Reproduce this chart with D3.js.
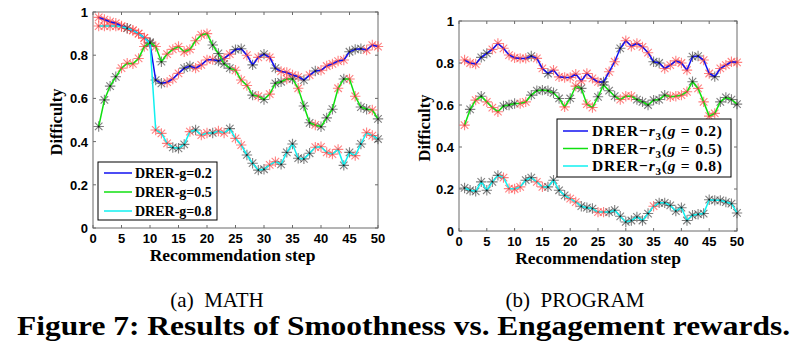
<!DOCTYPE html>
<html>
<head>
<meta charset="utf-8">
<script src="https://cdn.jsdelivr.net/npm/d3@7/dist/d3.min.js"></script>
<style>
  html, body { margin: 0; padding: 0; background: #fff; }
  svg { display: block; }
</style>
</head>
<body>
<svg id="fig" width="800" height="359"></svg>
<script>
// Recommendation steps shared by both panels
const steps = d3.range(1, 51);

// (a) MATH: difficulty per step
const mathG02 = [0.975, 0.965, 0.955, 0.948, 0.935, 0.925, 0.915, 0.90, 0.88, 0.855,
  0.685, 0.67, 0.675, 0.69, 0.716, 0.74, 0.75, 0.74, 0.755, 0.778,
  0.78, 0.773, 0.785, 0.805, 0.826, 0.83, 0.80, 0.755, 0.79, 0.805,
  0.79, 0.74, 0.725, 0.72, 0.708, 0.70, 0.685, 0.708, 0.727, 0.73,
  0.75, 0.76, 0.773, 0.778, 0.816, 0.827, 0.83, 0.824, 0.847, 0.84];
const mathG05 = [0.47, 0.593, 0.657, 0.70, 0.74, 0.763, 0.76, 0.785, 0.84, 0.86,
  0.84, 0.77, 0.805, 0.827, 0.84, 0.816, 0.827, 0.867, 0.894, 0.90,
  0.847, 0.808, 0.76, 0.74, 0.73, 0.685, 0.66, 0.615, 0.61, 0.595,
  0.62, 0.67, 0.677, 0.69, 0.69, 0.647, 0.565, 0.487, 0.477, 0.469,
  0.51, 0.55, 0.647, 0.69, 0.69, 0.61, 0.56, 0.55, 0.546, 0.505];
const mathG08 = [0.935, 0.935, 0.935, 0.935, 0.932, 0.925, 0.915, 0.90, 0.88, 0.855,
  0.454, 0.438, 0.392, 0.373, 0.369, 0.387, 0.446, 0.454, 0.43, 0.44,
  0.44, 0.449, 0.44, 0.46, 0.415, 0.384, 0.338, 0.30, 0.268, 0.272,
  0.292, 0.307, 0.295, 0.35, 0.389, 0.323, 0.32, 0.346, 0.374, 0.376,
  0.35, 0.342, 0.364, 0.29, 0.35, 0.335, 0.389, 0.441, 0.428, 0.412];

// (b) PROGRAM: difficulty per step
const progG02 = [0.814, 0.80, 0.795, 0.827, 0.846, 0.865, 0.893, 0.87, 0.838, 0.825,
  0.822, 0.822, 0.833, 0.822, 0.774, 0.75, 0.766, 0.734, 0.731, 0.731,
  0.747, 0.715, 0.75, 0.727, 0.71, 0.71, 0.758, 0.806, 0.87, 0.906,
  0.88, 0.893, 0.877, 0.849, 0.806, 0.80, 0.774, 0.79, 0.81, 0.80,
  0.766, 0.83, 0.833, 0.814, 0.75, 0.735, 0.774, 0.79, 0.806, 0.803];
const progG05 = [0.504, 0.579, 0.623, 0.642, 0.615, 0.588, 0.568, 0.595, 0.60, 0.607,
  0.607, 0.615, 0.647, 0.668, 0.671, 0.668, 0.658, 0.631, 0.591, 0.631,
  0.69, 0.679, 0.604, 0.588, 0.639, 0.695, 0.668, 0.642, 0.626, 0.642,
  0.642, 0.626, 0.615, 0.60, 0.623, 0.626, 0.647, 0.639, 0.642, 0.647,
  0.663, 0.711, 0.679, 0.615, 0.547, 0.56, 0.615, 0.636, 0.626, 0.604];
const progG08 = [0.205, 0.194, 0.189, 0.234, 0.194, 0.234, 0.265, 0.254, 0.202, 0.20,
  0.21, 0.242, 0.254, 0.234, 0.21, 0.21, 0.242, 0.194, 0.17, 0.154,
  0.138, 0.118, 0.111, 0.107, 0.09, 0.09, 0.09, 0.099, 0.07, 0.043,
  0.05, 0.067, 0.05, 0.083, 0.118, 0.134, 0.134, 0.122, 0.095, 0.111,
  0.05, 0.075, 0.08, 0.083, 0.149, 0.146, 0.146, 0.138, 0.13, 0.086];

// marker kind per step: R = red star, K = grey star
const mathMarks = [
  "RRRRRRRRRRKKRRRKKRRRRKRRKKRKRKRKRRRRKRKRRRRRKKKRRR",
  "KKKKRRRRRKRKRRRRRRRRKKKKRRRKRKRKKRKRKKRKKKRKRRKKRK",
  "RRRRRKRRRKRRRKKKRKRRKRRKRRKKKKRRKKKKKKRRRRRKKRKRRK"
];
const progMarks = [
  "RRRKKRRRRRRRKRRKRRRRRRRRRKRRKRRRRRKKRRRRRKKRRKRRRR",
  "RKRKRRRKKKRRKKKKKKRKRKRRKKKKRRRKKKKKKRRRRKRRRRKKKK",
  "KKKKKKKRRRRKKRRKKKKRRKKKRRKKKKKKKKRKKKKKKKKKKKKKKK"
];

const yTicks = [0, 0.2, 0.4, 0.6, 0.8, 1];
const xTicks = [0, 5, 10, 15, 20, 25, 30, 35, 40, 45, 50];
const lineColors = ["#1010f0", "#10e010", "#10f0f0"];
const mathLabels = ["DRER-g=0.2", "DRER-g=0.5", "DRER-g=0.8"];
const progGs = ["0.2", "0.5", "0.8"];

const svg = d3.select("#fig");
const serif = "'Liberation Serif', 'DejaVu Serif', serif";
const sans = "'Liberation Sans', Arial, sans-serif";

// soft look of the scanned star markers
svg.append("defs").append("filter").attr("id", "soft")
  .append("feGaussianBlur").attr("stdDeviation", 0.45);

// 8-spoke star like the matlab '*' marker
const starPath = (r) => {
  const d = r * 0.72;
  return `M${-r},0L${r},0M0,${-r}L0,${r}M${-d},${-d}L${d},${d}M${-d},${d}L${d},${-d}`;
};

function drawPanel(p) {
  const x = d3.scaleLinear().domain([0, 50]).range([p.left, p.right]);
  const y = d3.scaleLinear().domain([0, 1]).range([p.bottom, p.top]);
  const g = svg.append("g");

  // frame
  g.append("rect")
    .attr("x", p.left).attr("y", p.top)
    .attr("width", p.right - p.left).attr("height", p.bottom - p.top)
    .attr("fill", "none").attr("stroke", "#6a6a6a").attr("stroke-width", 1);

  // inward ticks on all four sides
  const tickLen = 3;
  xTicks.forEach((t) => {
    g.append("line").attr("x1", x(t)).attr("x2", x(t)).attr("y1", p.bottom).attr("y2", p.bottom - tickLen)
      .attr("stroke", "#6a6a6a");
    g.append("line").attr("x1", x(t)).attr("x2", x(t)).attr("y1", p.top).attr("y2", p.top + tickLen)
      .attr("stroke", "#6a6a6a");
  });
  yTicks.forEach((t) => {
    g.append("line").attr("x1", p.left).attr("x2", p.left + tickLen).attr("y1", y(t)).attr("y2", y(t))
      .attr("stroke", "#6a6a6a");
    g.append("line").attr("x1", p.right).attr("x2", p.right - tickLen).attr("y1", y(t)).attr("y2", y(t))
      .attr("stroke", "#6a6a6a");
  });

  // tick labels
  g.selectAll("text.xt").data(xTicks).enter().append("text")
    .attr("x", (d) => x(d)).attr("y", p.bottom + 15)
    .attr("text-anchor", "middle")
    .style("font", `bold 13px ${sans}`)
    .text((d) => d);
  g.selectAll("text.yt").data(yTicks).enter().append("text")
    .attr("x", p.left - 5).attr("y", (d) => y(d) + 5)
    .attr("text-anchor", "end")
    .style("font", `bold 13px ${sans}`)
    .text((d) => d3.format("~g")(d));

  // axis titles
  g.append("text")
    .attr("x", (p.left + p.right) / 2 + p.xLabelShift).attr("y", p.bottom + 32.5)
    .attr("text-anchor", "middle")
    .style("font", `bold 17.5px ${serif}`)
    .text("Recommendation step");
  g.append("text")
    .attr("transform", `translate(${p.yLabelX},${(p.top + p.bottom) / 2 + 2}) rotate(-90)`)
    .attr("text-anchor", "middle")
    .style("font", `bold 16.5px ${serif}`)
    .text("Difficulty");

  const line = d3.line().x((d, i) => x(steps[i])).y((d) => y(d));

  // stars first, then the lines over them
  p.series.forEach((vals, si) => {
    const marks = p.marks[si];
    g.append("g").attr("filter", "url(#soft)")
      .selectAll("path").data(vals).enter().append("path")
      .attr("transform", (d, i) => `translate(${x(steps[i])},${y(d)})`)
      .attr("d", starPath(5.2))
      .attr("fill", "none")
      .attr("stroke", (d, i) => (marks[i] === "R" ? "#ff4c4c" : "#484848"))
      .attr("stroke-opacity", (d, i) => (marks[i] === "R" ? 0.7 : 0.7))
      .attr("stroke-width", 1.1);
  });
  p.series.forEach((vals, si) => {
    g.append("path").datum(vals)
      .attr("d", line)
      .attr("fill", "none")
      .attr("stroke", lineColors[si])
      .attr("stroke-width", 1.5);
  });
  p.series.forEach((vals, si) => {
    const marks = p.marks[si];
    g.append("g").selectAll("circle").data(vals).enter().append("circle")
      .attr("cx", (d, i) => x(steps[i])).attr("cy", (d) => y(d))
      .attr("r", 1)
      .attr("fill", (d, i) => (marks[i] === "R" ? "#e04040" : "#202020"));
  });

  // legend
  const L = p.legend;
  g.append("rect")
    .attr("x", L.x).attr("y", L.y).attr("width", L.w).attr("height", L.h)
    .attr("fill", "#fff").attr("stroke", "#000").attr("stroke-width", 1);
  lineColors.forEach((c, i) => {
    const ry = L.y + L.row0 + i * L.rowGap;
    g.append("line")
      .attr("x1", L.x + 6).attr("x2", L.x + 6 + L.lineW)
      .attr("y1", ry).attr("y2", ry)
      .attr("stroke", c).attr("stroke-width", 1.5);
    L.label(g.append("text")
      .attr("x", L.x + L.textX).attr("y", ry + 5), i);
  });
}

drawPanel({
  left: 93, right: 378, top: 12, bottom: 228,
  yLabelX: 62, xLabelShift: -3,
  series: [mathG02, mathG05, mathG08],
  marks: mathMarks,
  legend: {
    x: 98, y: 162, w: 119, h: 58, row0: 11, rowGap: 19, lineW: 28, textX: 37,
    label: (t, i) => t.style("font", `bold 14px ${serif}`).text(mathLabels[i])
  }
});

drawPanel({
  left: 459, right: 737, top: 21, bottom: 231,
  yLabelX: 430, xLabelShift: 0,
  series: [progG02, progG05, progG08],
  marks: progMarks,
  legend: {
    x: 557, y: 119, w: 174, h: 58, row0: 12, rowGap: 17.5, lineW: 25, textX: 35,
    label: (t, i) => {
      t.style("font", `bold 15.5px ${serif}`)
        .attr("textLength", 130).attr("lengthAdjust", "spacing");
      t.append("tspan").text("DRER\u2212");
      t.append("tspan").style("font-style", "italic").text("r");
      t.append("tspan").attr("dy", 4).style("font-size", "11px").text("3");
      t.append("tspan").attr("dy", -4).text("(");
      t.append("tspan").style("font-style", "italic").text("g");
      t.append("tspan").text(` = ${progGs[i]})`);
    }
  }
});

// sub-captions and figure caption
svg.append("text").attr("x", 217).attr("y", 307).attr("text-anchor", "middle")
  .style("font", `21px ${serif}`).text("(a)\u00a0 MATH");
svg.append("text").attr("x", 575).attr("y", 307).attr("text-anchor", "middle")
  .style("font", `21px ${serif}`).text("(b)\u00a0 PROGRAM");
svg.append("text").attr("x", 17).attr("y", 335)
  .attr("textLength", 773).attr("lengthAdjust", "spacingAndGlyphs")
  .style("font", `bold 27px ${serif}`)
  .text("Figure 7: Results of Smoothness vs. Engagement rewards.");
</script>
</body>
</html>
